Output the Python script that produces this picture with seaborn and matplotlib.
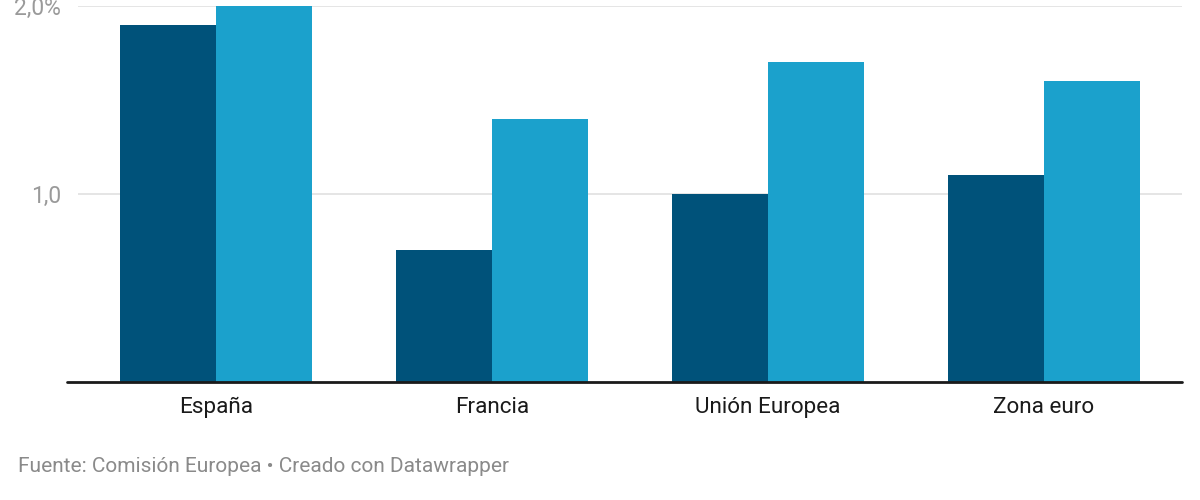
import numpy as np
import pandas as pd
import seaborn as sns
import matplotlib.pyplot as plt

# data
regions = ["España", "Francia", "Unión Europea", "Zona euro"]
series_names = ["Serie 1", "Serie 2"]
serie_1 = [1.9, 0.7, 1.0, 1.1]
serie_2 = [2.0, 1.4, 1.7, 1.6]
y_ticks = [1.0, 2.0]
y_tick_labels = ["1,0", "2,0%"]
source_text = "Fuente: Comisión Europea • Creado con Datawrapper"

colors = ["#00527a", "#1ba1cc"]

df = pd.DataFrame({
    "region": regions * 2,
    "serie": [series_names[0]] * len(regions) + [series_names[1]] * len(regions),
    "valor": serie_1 + serie_2,
})

sns.set_theme(style="white")
plt.rcParams["font.family"] = ["Roboto", "DejaVu Sans"]

fig = plt.figure(figsize=(12, 5), dpi=100)
ax = fig.add_axes([0.065, 0.236, 0.92, 0.752])

sns.barplot(
    data=df, x="region", y="valor", hue="serie", order=regions,
    hue_order=series_names, palette=colors, saturation=1,
    width=0.696, gap=0, dodge=True, errorbar=None, ax=ax, zorder=3,
    linewidth=0,
)

ax.set_xlim(-0.5, len(regions) - 0.5)
ax.set_ylim(0, 2.0)
ax.set_yticks(y_ticks)
ax.set_yticklabels(y_tick_labels)
ax.yaxis.grid(True, color="#e0e0e0", linewidth=1.2, zorder=0)
ax.xaxis.grid(False)
ax.tick_params(axis="y", length=0, pad=12, labelsize=16.5, labelcolor="#9a9a9a")
ax.tick_params(axis="x", length=0, pad=11, labelsize=16.2, labelcolor="#1a1a1a")
ax.set_xlabel("")
ax.set_ylabel("")
for side in ["top", "right", "left", "bottom"]:
    ax.spines[side].set_visible(False)
if ax.get_legend() is not None:
    ax.get_legend().remove()

# baseline extends slightly past the plot area on the left
ax.axhline(0, xmin=-0.01, xmax=1.0, color="#1a1a1a", linewidth=2, clip_on=False, zorder=4)

fig.text(0.015, 0.066, source_text, fontsize=15, color="#8a8a8a", va="center", ha="left")

fig.savefig("out.png", dpi=100)
